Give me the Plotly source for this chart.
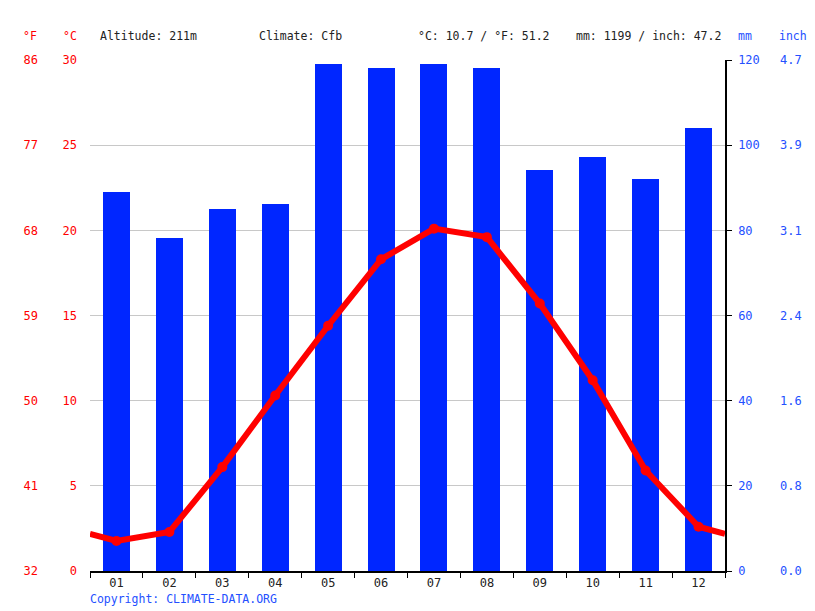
import plotly.graph_objects as go

months = ["01", "02", "03", "04", "05", "06", "07", "08", "09", "10", "11", "12"]
precip_mm = [89.0, 78.2, 85.0, 86.2, 119.1, 118.1, 119.1, 118.1, 94.2, 97.2, 92.1, 104.0]
temp_c = [1.76, 2.29, 6.1, 10.3, 14.4, 18.3, 20.1, 19.6, 15.7, 11.2, 5.9, 2.6]

c_ticks = [0, 5, 10, 15, 20, 25, 30]
f_ticks = [32, 41, 50, 59, 68, 77, 86]
mm_ticks = [0, 20, 40, 60, 80, 100, 120]
inch_labels = ["0.0", "0.8", "1.6", "2.4", "3.1", "3.9", "4.7"]

FONT = "DejaVu Sans Mono"
RED = "#ff0000"
BLUE = "#0026ff"
LBLUE = "#2450ff"

# page body has an 8px margin; lay out in screen pixels then shift
OFF = 8
SW, SH = 815, 611
PL, PR, PT, PB = 90, 725, 60, 571  # plot area in screen pixels
W, H = SW - OFF, SH - OFF
L, T = PL - OFF, PT - OFF
R, B = W - (PR - OFF), H - (PB - OFF)
PW, PH = PR - PL, PB - PT

xs = list(range(1, 13))
edge = (temp_c[0] + temp_c[-1]) / 2
line_x = [0.5] + xs + [12.5]
line_y = [edge] + temp_c + [edge]

fig = go.Figure()
fig.add_trace(go.Bar(x=xs, y=precip_mm, width=0.51, marker=dict(color=BLUE, line=dict(width=0)),
                     yaxis="y", showlegend=False))
fig.add_trace(go.Scatter(x=line_x, y=line_y, mode="lines", line=dict(color=RED, width=6),
                         yaxis="y2", showlegend=False))
fig.add_trace(go.Scatter(x=xs, y=temp_c, mode="markers", marker=dict(color=RED, size=10),
                         yaxis="y2", showlegend=False))
# invisible carriers so the °F and inch axes are drawn
fig.add_trace(go.Scatter(x=[1], y=[50], yaxis="y3", mode="markers", opacity=0,
                         showlegend=False, hoverinfo="skip"))
fig.add_trace(go.Scatter(x=[1], y=[1], yaxis="y4", mode="markers", opacity=0,
                         showlegend=False, hoverinfo="skip"))

fig.update_layout(
    width=W, height=H,
    margin=dict(l=L, r=R, t=T, b=B, autoexpand=False),
    paper_bgcolor="white", plot_bgcolor="white",
    font=dict(family=FONT, size=11.5, color="#222"),
    bargap=0,
    xaxis=dict(range=[0.5, 12.5], tickvals=xs, ticktext=months, ticks="",
               showline=True, linecolor="black", linewidth=1.5, showgrid=False, zeroline=False,
               tickfont=dict(color="#222", size=12), automargin=False,
               minor=dict(tickvals=[i + 0.5 for i in range(0, 13)], ticks="outside", ticklen=5,
                          tickcolor="black", tickwidth=1, showgrid=False)),
    yaxis=dict(range=[0, 120], tickvals=mm_ticks, side="right", anchor="x",
               showgrid=True, gridcolor="#c8c8c8", gridwidth=1, zeroline=False,
               showline=True, linecolor="black", linewidth=1.5,
               ticks="outside", ticklen=5, tickcolor="black", automargin=False,
               tickfont=dict(color=LBLUE, size=12), ticklabelstandoff=4),
    yaxis2=dict(range=[0, 30], tickvals=c_ticks, overlaying="y", side="left", anchor="x",
                ticks="", showline=False, showgrid=False, zeroline=False, automargin=False,
                tickfont=dict(color=RED, size=12), ticklabelstandoff=12),
    yaxis3=dict(range=[32, 86], tickvals=f_ticks, overlaying="y", anchor="free", position=0,
                side="left", showgrid=False, zeroline=False, showline=False, ticks="",
                automargin=False, tickfont=dict(color=RED, size=12), ticklabelstandoff=52),
    yaxis4=dict(range=[0, 120 / 25.4], tickvals=[m / 25.4 for m in mm_ticks], ticktext=inch_labels,
                overlaying="y", anchor="free", position=1, side="right",
                showgrid=False, zeroline=False, showline=False, ticks="", automargin=False,
                tickfont=dict(color=LBLUE, size=12), ticklabelstandoff=54),
)


def px(x):
    return (x - PL) / PW


def py(y):
    return (PB - y) / PH


header_y = 36
ann = [
    dict(text="°F", x=30, color=RED, xanchor="center"),
    dict(text="°C", x=70, color=RED, xanchor="center"),
    dict(text="mm", x=745, color=LBLUE, xanchor="center"),
    dict(text="inch", x=793, color=LBLUE, xanchor="center"),
    dict(text="Altitude: 211m", x=98, color="#222", xanchor="left"),
    dict(text="Climate: Cfb", x=257, color="#222", xanchor="left"),
    dict(text="°C: 10.7 / °F: 51.2", x=416, color="#222", xanchor="left"),
    dict(text="mm: 1199 / inch: 47.2", x=574, color="#222", xanchor="left"),
]
for a in ann:
    fig.add_annotation(text=a["text"], x=px(a["x"]), y=py(header_y), xref="paper", yref="paper",
                       xanchor=a["xanchor"], yanchor="middle", showarrow=False,
                       font=dict(family=FONT, size=11.5, color=a["color"]))
fig.add_annotation(text="Copyright: CLIMATE-DATA.ORG", x=px(88), y=py(599),
                   xref="paper", yref="paper", xanchor="left", yanchor="middle", showarrow=False,
                   font=dict(family=FONT, size=11.5, color=LBLUE))

fig.write_html("out.html")
